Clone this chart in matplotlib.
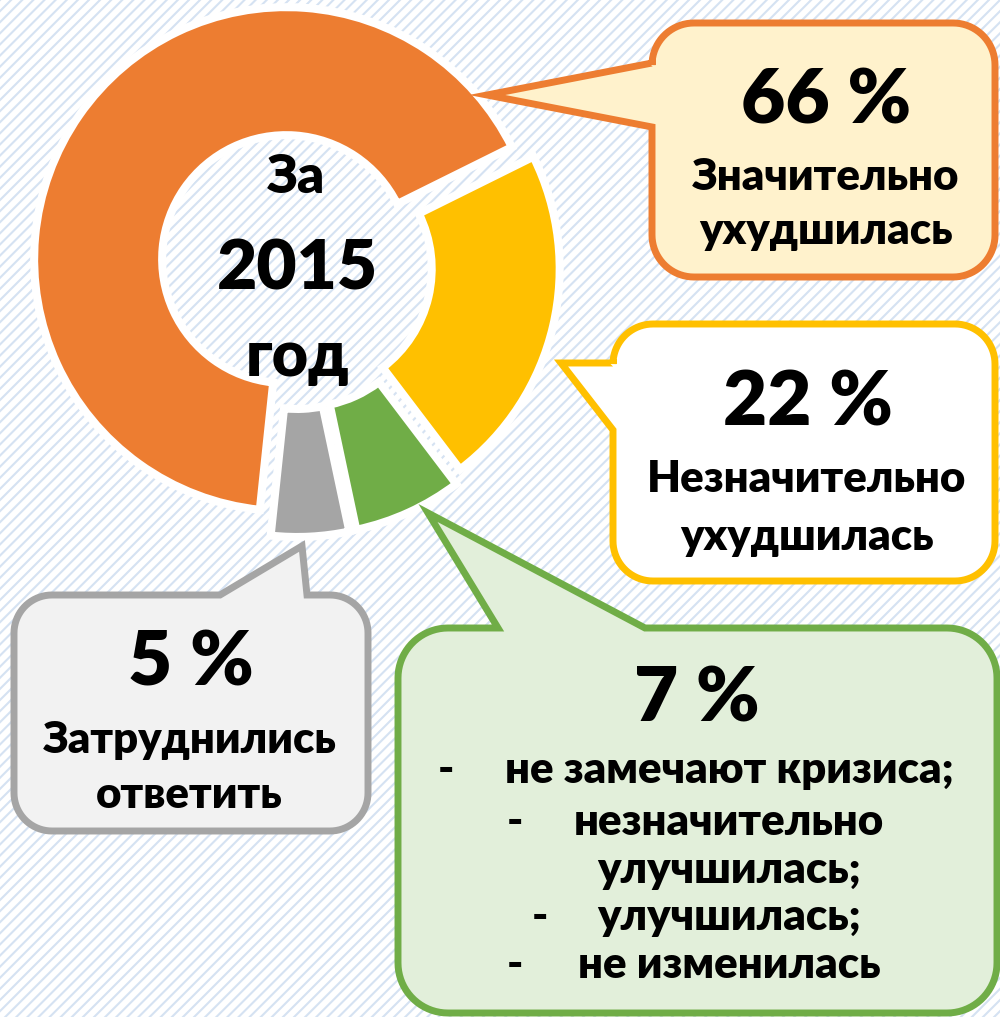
#!/usr/bin/env python

# numpy, matplotlib
import numpy as np
import matplotlib
matplotlib.use("Agg")
import matplotlib.pyplot as plt
from matplotlib.patches import Rectangle, Polygon

# data
shares = [66, 22, 7, 5]
share_colors = ["#ED7D31", "#FFC000", "#70AD47", "#A5A5A5"]
box_fills = ["#FFF2CC", "#FFFFFF", "#E2EFDA", "#F2F2F2"]

center_lines = ["За", "2015", "год"]
orange_lines = ["Значительно", "ухудшилась"]
yellow_lines = ["Незначительно", "ухудшилась"]
gray_lines = ["Затруднились", "ответить"]
green_lines = ["не замечают кризиса;", "незначительно", "улучшилась;", "улучшилась;", "не изменилась"]
green_dashes = [446, 515, None, 540, 515]

W, H = 1000, 1017

plt.rcParams["font.family"] = ["Lato", "Open Sans", "DejaVu Sans"]
plt.rcParams["hatch.linewidth"] = 1.5

BODY = 31.5
BIG = 55
WEIGHT = "heavy"


def callout(ax, x0, y0, x1, y1, r, side, b0, b1, tip, fill, edge):
    """
    rounded box with a pointer, given in screen pixels (y down)
    """
    def arc(cx, cy, a0, a1):
        t = np.radians(np.linspace(a0, a1, 20))
        return list(zip(cx + r * np.cos(t), cy + r * np.sin(t)))

    pts = arc(x0 + r, y0 + r, 180, 270)
    if side == "top":
        pts += [(b0, y0), tip, (b1, y0)]
    pts += arc(x1 - r, y0 + r, 270, 360)
    pts += arc(x1 - r, y1 - r, 0, 90)
    pts += arc(x0 + r, y1 - r, 90, 180)
    if side == "left":
        pts += [(x0, b1), tip, (x0, b0)]
    pts = [(x, H - y) for x, y in pts]
    ax.add_patch(Polygon(pts, closed=True, facecolor=fill, edgecolor=edge,
                         linewidth=5, joinstyle="miter", zorder=3))


def put(ax, x, y, s, size):
    ax.text(x, H - y, s, ha="center", va="baseline", fontsize=size,
            fontweight=WEIGHT, color="black", zorder=4)


def main():
    fig = plt.figure(figsize=(W / 100, H / 100), dpi=100)
    ax = fig.add_axes([0, 0, 1, 1])

    # striped background
    ax.add_patch(Rectangle((0, 0), W, H, facecolor="white", edgecolor="#D5E2F2",
                           hatch="///", linewidth=0, zorder=0))

    # donut
    ax.pie(shares, colors=share_colors, startangle=264, counterclock=False,
           radius=252, center=(296, H - 266), explode=[12, 12, 19, 19],
           wedgeprops=dict(width=128, edgecolor="white", linewidth=5.8, zorder=2))

    # centre caption
    put(ax, 296, 193, center_lines[0], 38)
    put(ax, 297, 290, center_lines[1], 50)
    put(ax, 298, 376, center_lines[2], 45)

    # callouts
    callout(ax, 652, 23, 995, 277, 42, "left", 63, 127, (487, 95),
            box_fills[0], share_colors[0])
    callout(ax, 613, 324, 995, 581, 40, "left", 363, 430, (561, 363),
            box_fills[1], share_colors[1])
    callout(ax, 398, 628, 997, 1013, 50, "top", 498, 645, (428, 513),
            box_fills[2], share_colors[2])
    callout(ax, 14, 595, 368, 831, 38, "top", 220, 307, (302, 546),
            box_fills[3], share_colors[3])

    # orange box text
    put(ax, 826, 123, f"{shares[0]} %", BIG)
    put(ax, 826, 190, orange_lines[0], BODY)
    put(ax, 826, 244, orange_lines[1], BODY)

    # yellow box text
    put(ax, 808, 425, f"{shares[1]} %", BIG)
    put(ax, 807, 492, yellow_lines[0], BODY)
    put(ax, 807, 550, yellow_lines[1], BODY)

    # gray box text
    put(ax, 191, 685, f"{shares[3]} %", BIG)
    put(ax, 190, 753, gray_lines[0], BODY)
    put(ax, 189, 808, gray_lines[1], BODY)

    # green box text
    put(ax, 697, 722, f"{shares[2]} %", BIG)
    baselines = [783, 835, 883, 930, 978]
    for line, dash, yb in zip(green_lines, green_dashes, baselines):
        put(ax, 729, yb, line, BODY)
        if dash is not None:
            put(ax, dash, yb, "-", BODY)

    ax.set_xlim(0, W)
    ax.set_ylim(0, H)
    ax.set_aspect("auto")
    ax.axis("off")
    fig.savefig("out.png", dpi=100)


if __name__ == "__main__":
    main()
